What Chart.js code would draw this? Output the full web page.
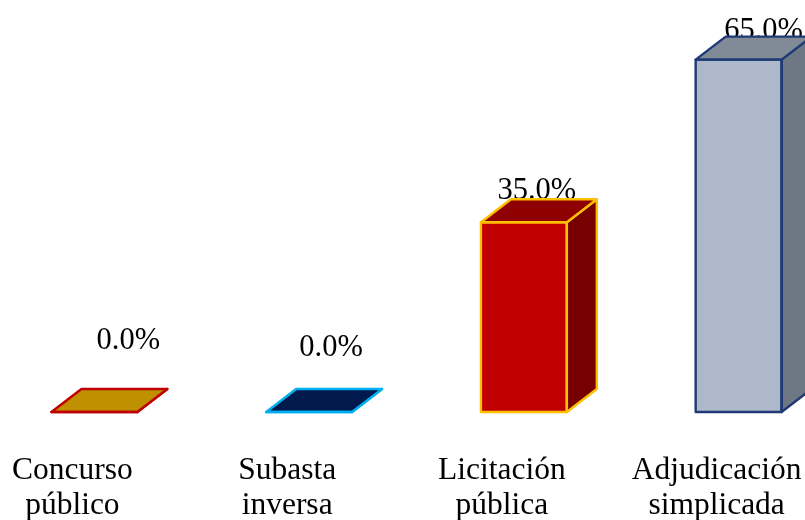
<!DOCTYPE html>
<html lang="es">
<head>
    <meta charset="UTF-8">
    <title>Procedimientos de selección</title>
    <script src="https://cdn.jsdelivr.net/npm/chart.js"></script>
    <style>
        html, body {
            margin: 0;
            height: 100%;
            overflow: hidden;
            background: #fff;
        }
        /* la primera categoria empieza fuera de la pagina, como en el original */
        #wrap {
            position: absolute;
            left: -13px;
            top: 0;
            width: 859px;
            height: 520px;
        }
    </style>
</head>
<body>
    <div id="wrap"><canvas id="myChart" width="859" height="520"></canvas></div>
    <script>
        const categories = [['Concurso', 'público'], ['Subasta', 'inversa'], ['Licitación', 'pública'], ['Adjudicación', 'simplicada']];
        const percentages = [0, 0, 35, 65];
        const frontColors = ['#BF9000', '#002060', '#C00000', '#ADB9CA'];
        const topColors = ['#BF9000', '#001A4D', '#8F0000', '#818B98'];
        const sideColors = ['#8F6C00', '#001848', '#770000', '#6E7784'];
        const borderColors = ['#C00000', '#00B0F0', '#FFC000', '#1F3A75'];

        const SERIF = '"Liberation Serif", serif';
        const DEPTH_X = 30;
        const DEPTH_Y = 23;
        // desplazamiento de cada etiqueta respecto a la barra
        const labelShift = [[34, 63], [22, 56], [13, 23], [25, 21]];

        function face(ctx, points, fill, stroke) {
            ctx.beginPath();
            points.forEach((p, i) => i ? ctx.lineTo(p[0], p[1]) : ctx.moveTo(p[0], p[1]));
            ctx.closePath();
            if (fill) {
                ctx.fillStyle = fill;
                ctx.fill();
            }
            ctx.strokeStyle = stroke;
            ctx.lineWidth = 2.4;
            ctx.lineJoin = 'round';
            ctx.stroke();
        }

        const box3d = {
            id: 'box3d',
            afterDatasetsDraw(chart) {
                const ctx = chart.ctx;
                const bars = chart.getDatasetMeta(0).data;
                ctx.save();
                // las etiquetas van detras de la caja
                bars.forEach((bar, i) => {
                    ctx.fillStyle = '#000';
                    ctx.font = '30.5px ' + SERIF;
                    ctx.textAlign = 'center';
                    ctx.textBaseline = 'alphabetic';
                    ctx.fillText(percentages[i].toFixed(1) + '%', bar.x + labelShift[i][0], bar.y - labelShift[i][1]);
                });
                bars.forEach((bar, i) => {
                    const left = bar.x - bar.width / 2;
                    const right = bar.x + bar.width / 2;
                    const top = bar.y;
                    const base = bar.base;
                    face(ctx, [[right, top], [right + DEPTH_X, top - DEPTH_Y], [right + DEPTH_X, base - DEPTH_Y], [right, base]], sideColors[i], borderColors[i]);
                    face(ctx, [[left, top], [left + DEPTH_X, top - DEPTH_Y], [right + DEPTH_X, top - DEPTH_Y], [right, top]], topColors[i], borderColors[i]);
                    face(ctx, [[left, top], [right, top], [right, base], [left, base]], null, borderColors[i]);
                });
                ctx.restore();
            }
        };

        new Chart(document.getElementById('myChart').getContext('2d'), {
            type: 'bar',
            data: {
                labels: categories,
                datasets: [{
                    data: percentages,
                    backgroundColor: frontColors,
                    borderWidth: 0,
                    barPercentage: 0.4,
                    categoryPercentage: 1
                }]
            },
            options: {
                responsive: false,
                animation: false,
                layout: { padding: 0 },
                plugins: {
                    legend: { display: false },
                    title: { display: false },
                    tooltip: { enabled: false }
                },
                scales: {
                    x: {
                        grid: { display: false },
                        border: { display: false },
                        afterFit: (scale) => {
                            scale.height = 108;
                            scale.paddingLeft = 0;
                            scale.paddingRight = 0;
                        },
                        ticks: {
                            color: '#000',
                            font: { family: SERIF, size: 31.5, lineHeight: 1.12 },
                            padding: 33,
                            labelOffset: -22,
                            autoSkip: false,
                            maxRotation: 0,
                            minRotation: 0
                        }
                    },
                    y: {
                        display: false,
                        min: 0,
                        max: 76
                    }
                }
            },
            plugins: [box3d]
        });
    </script>
</body>
</html>
